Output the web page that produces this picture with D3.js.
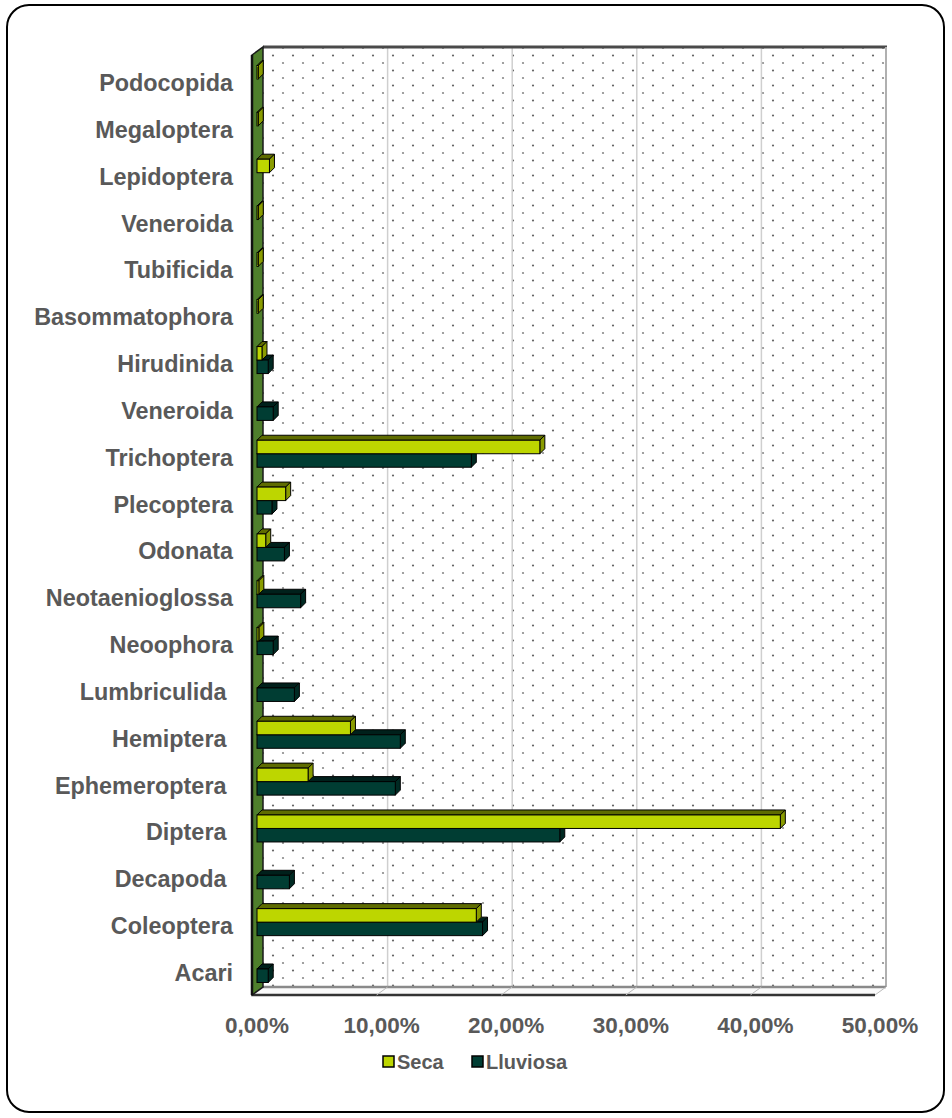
<!DOCTYPE html>
<html><head><meta charset="utf-8">
<script src="https://cdn.jsdelivr.net/npm/d3@7"></script>
<style>
html,body{margin:0;padding:0;background:#fff;}
svg text{font-family:"Liberation Sans",Arial,sans-serif;font-weight:bold;fill:#595959;white-space:pre;}
</style></head>
<body>
<svg id="chart" width="952" height="1118"></svg>
<script>
// Data (bottom to top as in the original chart)
const categories = ["Acari","Coleoptera","Decapoda ","Diptera ","Ephemeroptera ","Hemiptera ","Lumbriculida ","Neoophora","Neotaenioglossa","Odonata","Plecoptera","Trichoptera","Veneroida","Hirudinida","Basommatophora","Tubificida","Veneroida","Lepidoptera","Megaloptera","Podocopida"];
const seca =     [0, 17.6, 0, 42.0, 4.1, 7.5, 0, 0.15, 0.15, 0.7, 2.3, 22.7, 0, 0.4, 0.1, 0.1, 0.1, 1.0, 0.1, 0.1];
const lluviosa = [0.9, 18.1, 2.6, 24.3, 11.1, 11.5, 3.0, 1.3, 3.5, 2.2, 1.2, 17.2, 1.3, 0.9, 0, 0, 0, 0, 0, 0];
const seriesNames = ["Seca","Lluviosa"];
const tickValues = [0,10,20,30,40,50];

const svg = d3.select("#chart");
const fmt = v => d3.format(".2f")(v).replace(".", ",") + "%";

// outer border
svg.append("rect").attr("x",7).attr("y",5).attr("width",937).attr("height",1107)
  .attr("rx",22).attr("ry",22).attr("fill","#fff").attr("stroke","#000").attr("stroke-width",2);

// geometry
const dx = 6, dy = -8;                // wall depth offset
const xF = d3.scaleLinear().domain([0,50]).range([257,880]);   // front plane
const xB = v => xF(v) + dx;                                    // back wall
const idx = d3.range(categories.length);
const y = d3.scaleBand().domain(idx.slice().reverse()).range([59.6, 996.4]).padding(0);
const yTop = 47, yBot = 987;

// dot pattern
const defs = svg.append("defs");
const pat = defs.append("pattern").attr("id","dots").attr("patternUnits","userSpaceOnUse")
  .attr("width",20).attr("height",15).attr("x",3).attr("y",3);
pat.append("rect").attr("width",20).attr("height",15).attr("fill","#fff");
[[0,0],[20,0],[0,15],[20,15]].forEach(p=>pat.append("circle").attr("cx",p[0]).attr("cy",p[1]).attr("r",1.1).attr("fill","#8a8a8a"));
pat.append("circle").attr("cx",10).attr("cy",7.5).attr("r",1.1).attr("fill","#666");

// back wall
svg.append("rect").attr("x",xB(0)).attr("y",yTop).attr("width",xB(50)-xB(0)).attr("height",yBot-yTop)
  .attr("fill","url(#dots)");
// gridlines
svg.append("g").selectAll("line").data(tickValues.slice(1,5)).join("line")
  .attr("x1",d=>xB(d)).attr("x2",d=>xB(d)).attr("y1",yTop).attr("y2",yBot)
  .attr("stroke","#cfcfcf").attr("stroke-width",1.5);
// top & right edges
svg.append("line").attr("x1",xB(0)).attr("x2",xB(50)+1).attr("y1",yTop).attr("y2",yTop).attr("stroke","#4a4a4a").attr("stroke-width",3);
svg.append("line").attr("x1",xB(50)).attr("x2",xB(50)).attr("y1",yTop).attr("y2",yBot).attr("stroke","#b0b0b0").attr("stroke-width",2);

// floor
svg.append("polygon").attr("points",[[xF(0)-5,yBot-dy],[xF(50)-5,yBot-dy],[xB(50),yBot],[xB(0),yBot]].join(" "))
  .attr("fill","#fafafa");
svg.append("line").attr("x1",xB(0)).attr("x2",xB(50)).attr("y1",yBot).attr("y2",yBot).attr("stroke","#8a8a8a").attr("stroke-width",2.5);
svg.append("line").attr("x1",xF(0)-5).attr("x2",xF(50)-5).attr("y1",yBot-dy).attr("y2",yBot-dy).attr("stroke","#333").attr("stroke-width",2.5);
svg.append("g").selectAll("line").data(tickValues.slice(1)).join("line")
  .attr("x1",d=>xB(d)).attr("y1",yBot).attr("x2",d=>xF(d)-5).attr("y2",yBot-dy)
  .attr("stroke","#bbb").attr("stroke-width",1);

// left wall
const wl = xF(0)-5, wr = xB(0);
svg.append("polygon").attr("points",[[wl,yTop-dy],[wr,yTop],[wr,yBot],[wl,yBot-dy]].join(" "))
  .attr("fill","#4f7f2c").attr("stroke","#1a1a1a").attr("stroke-width",1.5);
svg.append("line").attr("x1",wl).attr("x2",wl).attr("y1",yTop-dy).attr("y2",yBot-dy).attr("stroke","#111").attr("stroke-width",2.5);

// bars
const bh = 13.5, d = 5;
const styles = {
  Seca:     {front:"#bdd600", top:"#5f6c00", right:"#8a9c00"},
  Lluviosa: {front:"#003d33", top:"#00201b", right:"#002a23"}
};
function drawBar(g, v, y0, st){
  const x0 = xF(0), x1 = xF(v);
  g.append("polygon").attr("points",[[x0,y0],[x1,y0],[x1+d,y0-d],[x0+d,y0-d]].join(" "))
    .attr("fill",st.top).attr("stroke","#000").attr("stroke-width",1);
  g.append("polygon").attr("points",[[x1,y0],[x1+d,y0-d],[x1+d,y0+bh-d],[x1,y0+bh]].join(" "))
    .attr("fill",st.right).attr("stroke","#000").attr("stroke-width",1);
  g.append("rect").attr("x",x0).attr("y",y0).attr("width",Math.max(0,x1-x0)).attr("height",bh)
    .attr("fill",st.front).attr("stroke","#000").attr("stroke-width",1);
}
const gb = svg.append("g");
idx.forEach(i=>{
  const c = y(i) + y.bandwidth()/2 - 4;
  if (lluviosa[i] > 0) drawBar(gb, lluviosa[i], c, styles.Lluviosa);
  if (seca[i] > 0) drawBar(gb, seca[i], c - bh, styles.Seca);
});

// category labels
svg.append("g").selectAll("text").data(idx).join("text")
  .attr("x",233).attr("y",i=>y(i)+y.bandwidth()/2+8)
  .attr("text-anchor","end").attr("font-size",23.4)
  .text(i=>categories[i]);

// x tick labels
svg.append("g").selectAll("text").data(tickValues).join("text")
  .attr("x",v=>xF(v)).attr("y",1033).attr("text-anchor","middle").attr("font-size",22.5)
  .text(v=>fmt(v));

// legend
const leg = svg.append("g");
const legX = [383, 472];
seriesNames.forEach((s,k)=>{
  leg.append("rect").attr("x",legX[k]).attr("y",1056).attr("width",11).attr("height",11)
    .attr("fill",styles[s].front).attr("stroke","#000").attr("stroke-width",1.5);
  leg.append("text").attr("x",legX[k]+14).attr("y",1069).attr("font-size",20).text(s);
});
</script>
</body></html>
